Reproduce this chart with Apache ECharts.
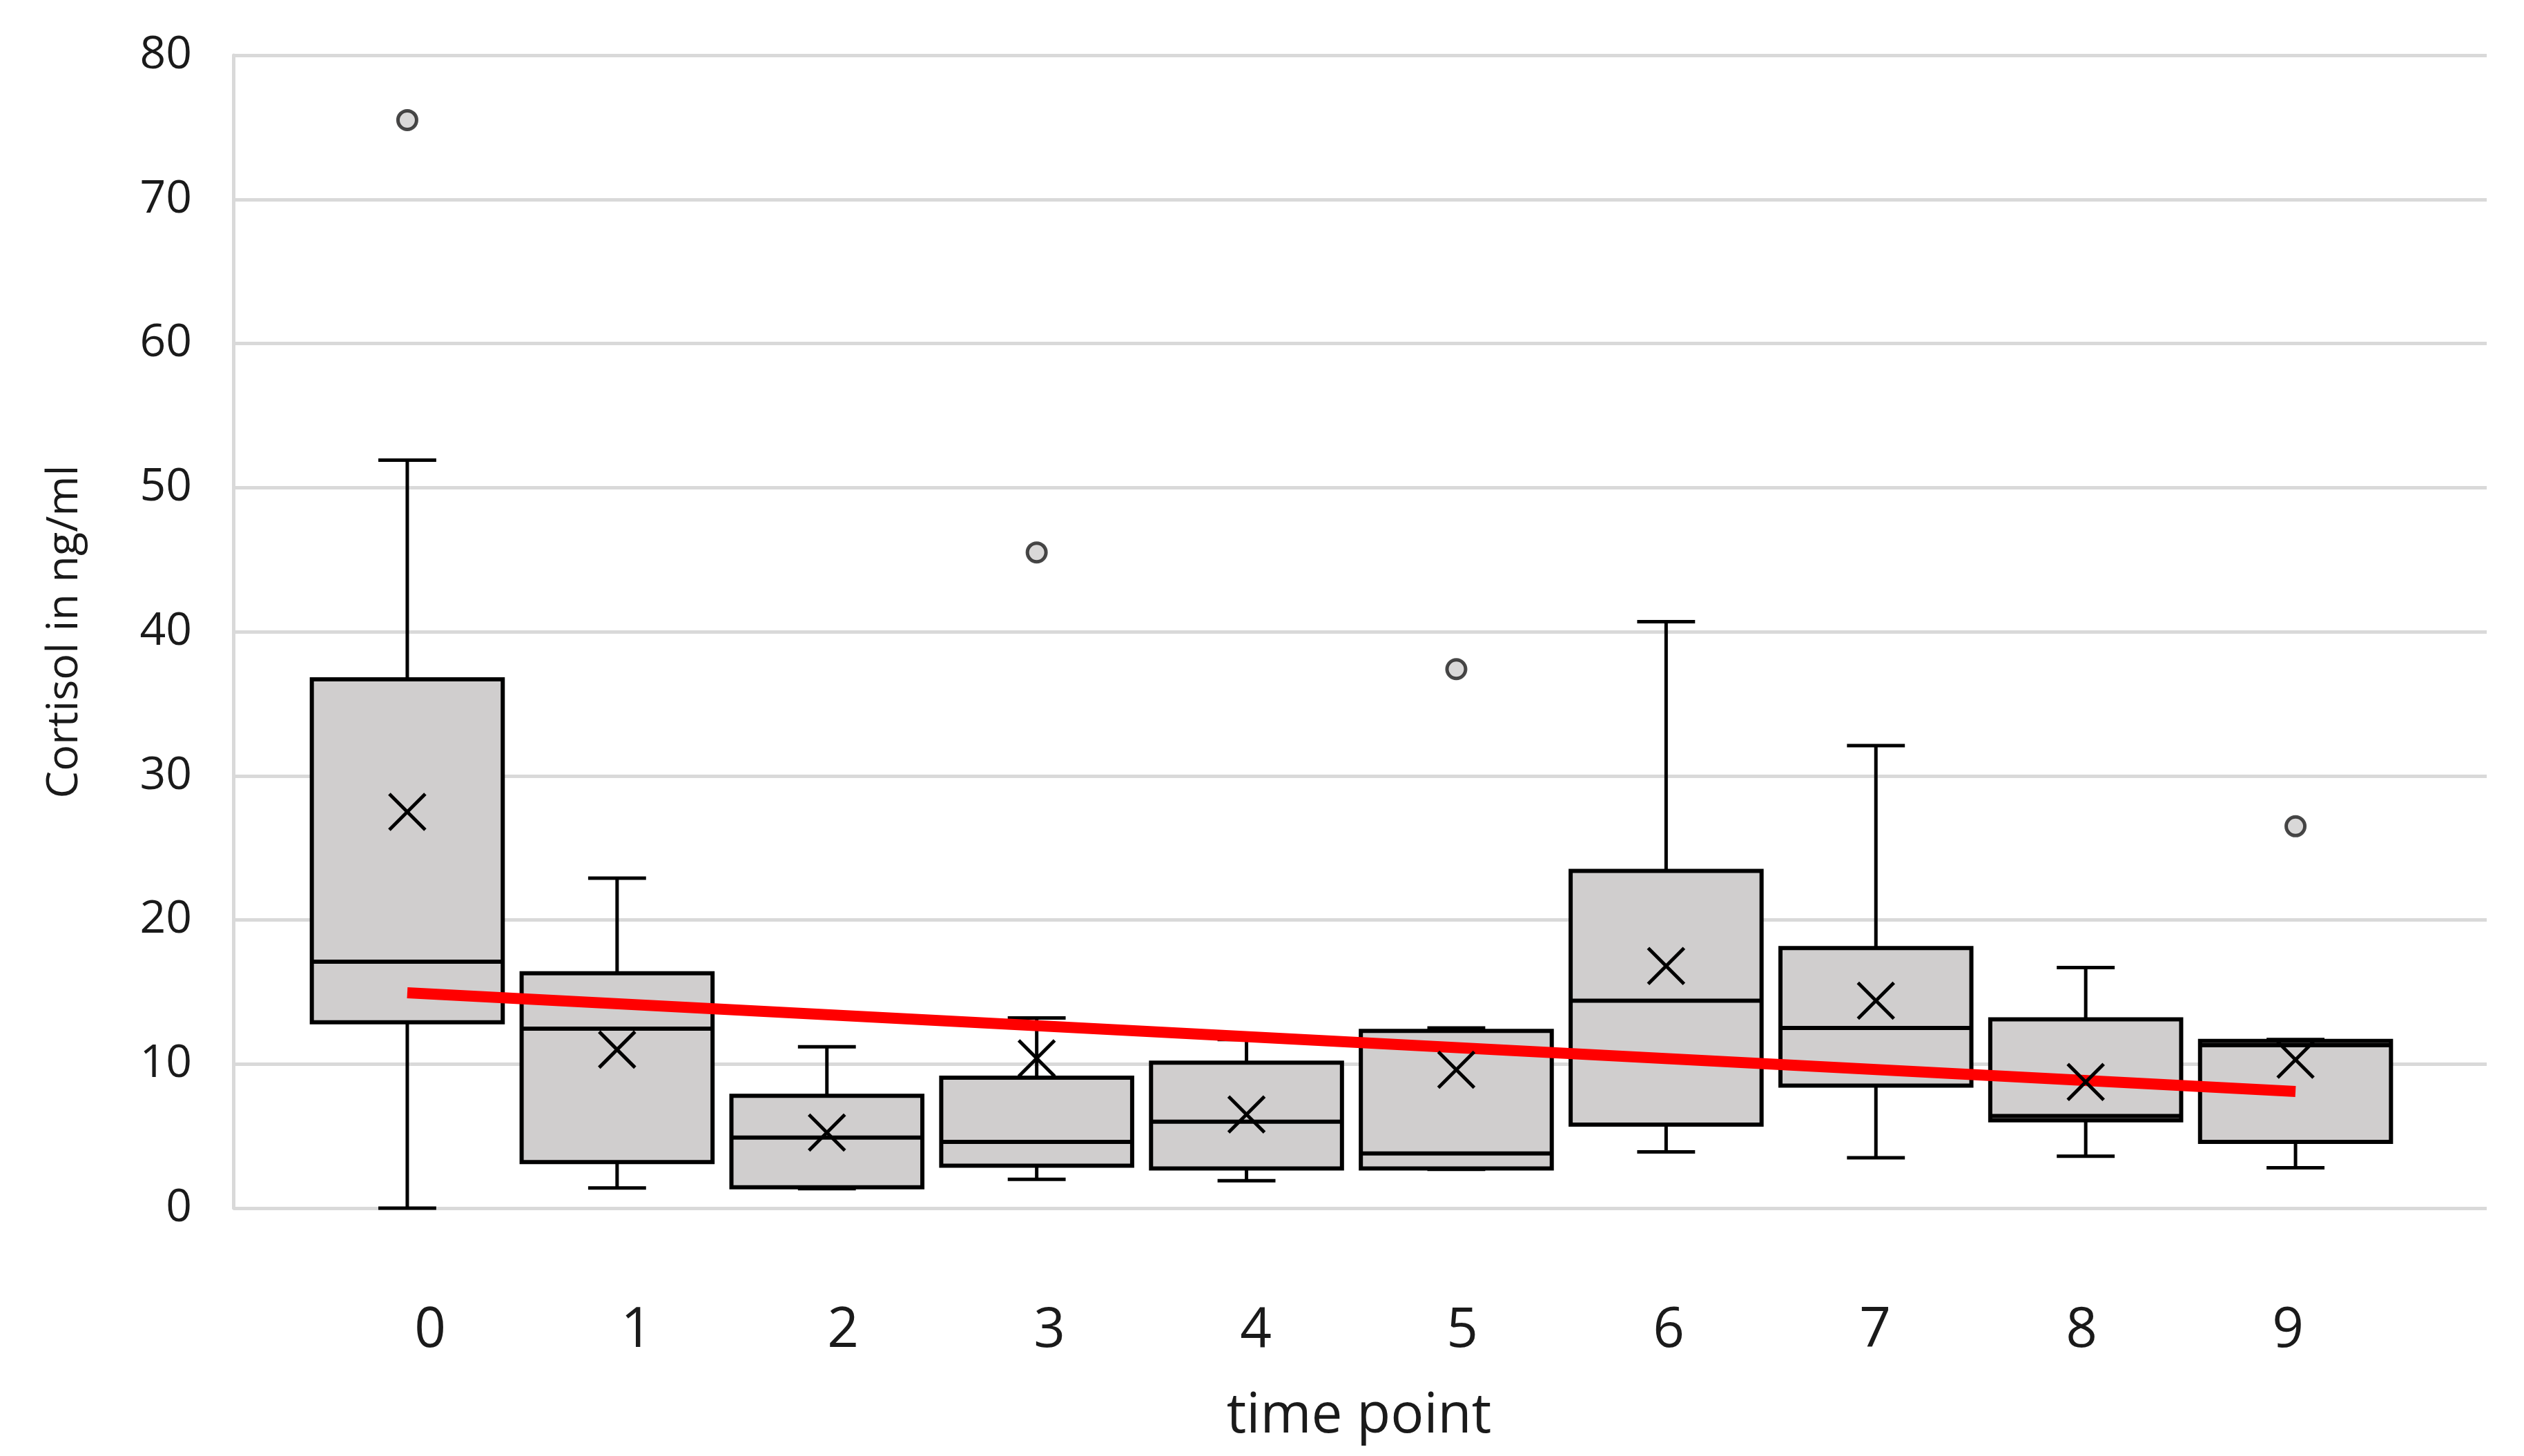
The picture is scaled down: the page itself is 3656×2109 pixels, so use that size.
<!DOCTYPE html>
<html>
<head>
<meta charset="utf-8">
<script src="https://cdn.jsdelivr.net/npm/echarts@6/dist/echarts.min.js"></script>
<style>
  html, body { margin: 0; padding: 0; background: #fff; }
  #chart { width: 3656px; height: 2109px; }
</style>
</head>
<body>
<div id="chart"></div>
<script>
// ---- data ----
const timePoints = ['0', '1', '2', '3', '4', '5', '6', '7', '8', '9'];
const whiskerLow  = [0.0, 1.4, 1.35, 2.0, 1.9, 2.7, 3.9, 3.5, 3.6, 2.8];
const q1Values    = [12.9, 3.2, 1.45, 2.95, 2.75, 2.75, 5.8, 8.5, 6.1, 4.6];
const medians     = [17.1, 12.45, 4.9, 4.6, 6.0, 3.8, 14.4, 12.5, 6.4, 11.3];
const q3Values    = [36.7, 16.3, 7.8, 9.05, 10.1, 12.3, 23.4, 18.05, 13.1, 11.6];
const whiskerHigh = [51.9, 22.9, 11.2, 13.2, 11.7, 12.5, 40.7, 32.1, 16.7, 11.7];
const means       = [27.5, 11.0, 5.25, 10.4, 6.5, 9.6, 16.8, 14.4, 8.75, 10.3];
const outliers    = [[0, 75.5], [3, 45.5], [5, 37.4], [9, 26.5]];
const trendLine   = [[0, 14.95], [9, 8.1]];
const yTicks      = { min: 0, max: 80, interval: 10 };

const boxData = timePoints.map((t, i) =>
  [i, whiskerLow[i], q1Values[i], medians[i], q3Values[i], whiskerHigh[i]]);
const meanData = means.map((m, i) => [i, m]);

const FONT = 'Open Sans';
const BOX_FILL = '#d0cece';

const chart = echarts.init(document.getElementById('chart'), null, { renderer: 'canvas' });

const option = {
  backgroundColor: '#ffffff',
  animation: false,
  grid: [
    // grid 0: gridlines + y labels (full plot area)
    { left: 338, right: 54, top: 80, bottom: 359, outerBoundsMode: 'none' },
    // grid 1: x category labels
    { left: 473.5, right: 192.5, top: 80, bottom: 359, outerBoundsMode: 'none' },
    // grid 2: data boxes
    { left: 438, right: 179, top: 80, bottom: 359, outerBoundsMode: 'none' }
  ],
  xAxis: [
    { gridIndex: 0, type: 'value', min: 0, max: 1, show: false },
    {
      gridIndex: 1, type: 'category', data: timePoints, boundaryGap: true,
      axisLine: { show: false }, axisTick: { show: false }, splitLine: { show: false },
      axisLabel: { fontFamily: FONT, fontSize: 80, color: '#1a1a1a', margin: 138 },
      name: 'time point', nameLocation: 'middle', nameGap: 262,
      nameTextStyle: { fontFamily: FONT, fontSize: 80, color: '#1a1a1a' }
    },
    { gridIndex: 2, type: 'category', data: timePoints, boundaryGap: true, show: false }
  ],
  yAxis: [
    {
      gridIndex: 0, type: 'value', min: yTicks.min, max: yTicks.max, interval: yTicks.interval,
      axisLine: { show: true, lineStyle: { color: '#d9d9d9', width: 5 } },
      axisTick: { show: false },
      splitLine: { show: true, lineStyle: { color: '#d9d9d9', width: 5 } },
      axisLabel: { fontFamily: FONT, fontSize: 66, color: '#1a1a1a', margin: 60 },
      name: 'Cortisol in ng/ml', nameLocation: 'middle', nameGap: 212,
      nameTextStyle: { fontFamily: FONT, fontSize: 63, color: '#1a1a1a' }
    },
    { gridIndex: 1, type: 'value', min: yTicks.min, max: yTicks.max, show: false },
    { gridIndex: 2, type: 'value', min: yTicks.min, max: yTicks.max, show: false }
  ],
  series: [
    {
      type: 'custom',
      name: 'boxes',
      xAxisIndex: 2, yAxisIndex: 2,
      encode: { x: 0, y: [1, 2, 3, 4, 5] },
      data: boxData,
      z: 2,
      renderItem: function (params, api) {
        const x = api.value(0);
        const low = api.coord([x, api.value(1)]);
        const q1 = api.coord([x, api.value(2)]);
        const med = api.coord([x, api.value(3)]);
        const q3 = api.coord([x, api.value(4)]);
        const high = api.coord([x, api.value(5)]);
        const band = api.size([1, 0])[0];
        const bw = band * 0.91;
        const capHalf = band * 0.138;
        const cx = low[0];
        const lineStyle = { stroke: '#000', lineWidth: 5 };
        return {
          type: 'group',
          children: [
            { type: 'line', shape: { x1: cx, y1: high[1], x2: cx, y2: q3[1] }, style: lineStyle },
            { type: 'line', shape: { x1: cx, y1: q1[1], x2: cx, y2: low[1] }, style: lineStyle },
            { type: 'line', shape: { x1: cx - capHalf, y1: high[1], x2: cx + capHalf, y2: high[1] }, style: lineStyle },
            { type: 'line', shape: { x1: cx - capHalf, y1: low[1], x2: cx + capHalf, y2: low[1] }, style: lineStyle },
            { type: 'rect', shape: { x: cx - bw / 2, y: q3[1], width: bw, height: q1[1] - q3[1] },
              style: { fill: BOX_FILL, stroke: '#000', lineWidth: 6 } },
            { type: 'line', shape: { x1: cx - bw / 2, y1: med[1], x2: cx + bw / 2, y2: med[1] },
              style: { stroke: '#000', lineWidth: 6 } }
          ]
        };
      }
    },
    {
      type: 'line',
      name: 'trend',
      xAxisIndex: 2, yAxisIndex: 2,
      data: trendLine,
      symbol: 'none',
      lineStyle: { color: '#ff0000', width: 16 },
      z: 3
    },
    {
      type: 'custom',
      name: 'mean',
      xAxisIndex: 2, yAxisIndex: 2,
      encode: { x: 0, y: 1 },
      data: meanData,
      z: 4,
      renderItem: function (params, api) {
        const p = api.coord([api.value(0), api.value(1)]);
        const h = 26;
        const st = { stroke: '#000', lineWidth: 5 };
        return {
          type: 'group',
          children: [
            { type: 'line', shape: { x1: p[0] - h, y1: p[1] - h, x2: p[0] + h, y2: p[1] + h }, style: st },
            { type: 'line', shape: { x1: p[0] - h, y1: p[1] + h, x2: p[0] + h, y2: p[1] - h }, style: st }
          ]
        };
      }
    },
    {
      type: 'scatter',
      name: 'outliers',
      xAxisIndex: 2, yAxisIndex: 2,
      data: outliers,
      symbol: 'circle',
      symbolSize: 27,
      itemStyle: { color: BOX_FILL, borderColor: '#1a1a1a', borderWidth: 5 },
      z: 4
    }
  ]
};

chart.setOption(option);
</script>
</body>
</html>
